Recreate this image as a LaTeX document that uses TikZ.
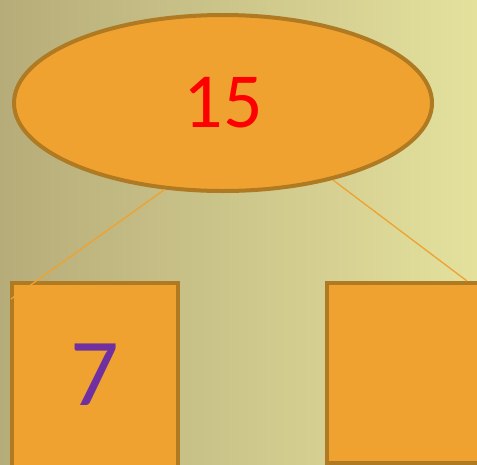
\documentclass[tikz,border=0pt]{standalone}
\usepackage{fontspec}
\setmainfont{Carlito}
\usepackage{tikz}
\usetikzlibrary{shapes.geometric,calc}

\definecolor{boxfill}{HTML}{EFA230}
\definecolor{boxline}{HTML}{B07A22}
\definecolor{leafpurple}{HTML}{7030A0}
\definecolor{bgleft}{HTML}{B6AC79}
\definecolor{bgright}{HTML}{E4E19D}

\tikzset{
    treenode/.style={draw=boxline, fill=boxfill, line width=4pt, inner sep=0pt},
    treeedge/.style={draw=boxfill, line width=1.3pt}
}

\begin{document}
\begin{tikzpicture}[x=1pt, y=-1pt]

    %% Background
    \shade[left color=bgleft, right color=bgright] (0,0) rectangle (477,464);
    \useasboundingbox (0,0) rectangle (477,464);

    % Root
    \node[treenode, ellipse, minimum width=418pt, minimum height=176pt] (root) at (223,103)
        {\fontsize{78}{80}\selectfont\color{red}15};

    % Leaves
    \node[treenode, minimum width=166pt, minimum height=184pt] (left) at (95,375)
        {\fontsize{96}{98}\selectfont\color{leafpurple}7};
    \node[treenode, minimum width=152pt, minimum height=180pt] (right) at (403,373) {};

    % Edges
    \coordinate (leftend) at ($(left.north west)+(1,18)$);
    \coordinate (rightend) at ($(right.north east)+(-14,0)$);
    \draw[treeedge] (root.236) -- (leftend);
    \draw[treeedge] (root.325) -- (rightend);

\end{tikzpicture}
\end{document}
